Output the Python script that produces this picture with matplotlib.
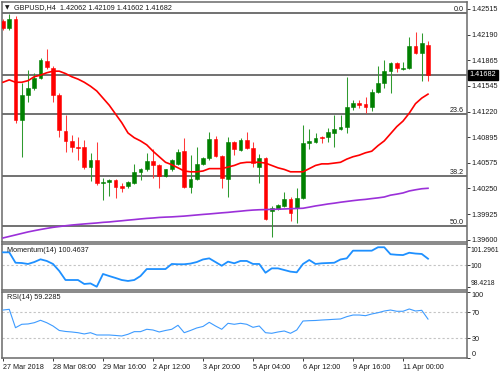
import matplotlib
matplotlib.use('Agg')
import matplotlib.pyplot as plt
import matplotlib.transforms as mtransforms
import numpy as np

plt.rcParams['font.family'] = ['Liberation Sans', 'DejaVu Sans']
FS = 5.2

# ---------------- data (GBPUSD H4) ----------------
opens = [1.4236, 1.4228, 1.4239, 1.4111, 1.4143, 1.4152, 1.4164, 1.4186, 1.4177, 1.4143,
         1.4098, 1.4085, 1.4077, 1.4077, 1.4052, 1.4061, 1.4032, 1.4033, 1.4036, 1.4028,
         1.4028, 1.4032, 1.4046, 1.4049, 1.4059, 1.4055, 1.4041, 1.4049, 1.4056, 1.4072,
         1.4027, 1.4037, 1.4056, 1.4064, 1.4087, 1.4066, 1.4037, 1.4084, 1.4074, 1.4086,
         1.4076, 1.4052, 1.4064, 1.3996, 1.3999, 1.4003, 1.4012, 1.4000, 1.4013, 1.4082,
         1.4084, 1.4090, 1.4090, 1.4095, 1.4100, 1.4103, 1.4128, 1.4133, 1.4132, 1.4128,
         1.4147, 1.4158, 1.4173, 1.4183, 1.4176, 1.4177, 1.4205, 1.4196, 1.42062]
highs = [1.4239, 1.4245, 1.4243, 1.4158, 1.4175, 1.4171, 1.4190, 1.4201, 1.4180, 1.4145,
         1.4118, 1.4093, 1.4090, 1.4086, 1.4070, 1.4084, 1.4038, 1.4037, 1.4037, 1.4032,
         1.4035, 1.4056, 1.4051, 1.4070, 1.4075, 1.4056, 1.4050, 1.4062, 1.4075, 1.4089,
         1.4067, 1.4077, 1.4065, 1.4096, 1.4091, 1.4067, 1.4090, 1.4085, 1.4089, 1.4096,
         1.4084, 1.4069, 1.4065, 1.4003, 1.4005, 1.4021, 1.4014, 1.4026, 1.4105, 1.4100,
         1.4095, 1.4091, 1.4101, 1.4118, 1.4118, 1.4166, 1.4137, 1.4137, 1.4140, 1.4151,
         1.4180, 1.4187, 1.4185, 1.4185, 1.4185, 1.4216, 1.4223, 1.4221, 1.42109]
lows = [1.4225, 1.4225, 1.4108, 1.4065, 1.4134, 1.4149, 1.4163, 1.4176, 1.4134, 1.4090,
        1.4071, 1.4071, 1.4061, 1.4050, 1.4035, 1.4029, 1.4010, 1.4016, 1.4013, 1.4021,
        1.4026, 1.4031, 1.4036, 1.4047, 1.4038, 1.4026, 1.4040, 1.4047, 1.4055, 1.4026,
        1.4019, 1.4036, 1.4055, 1.4061, 1.4065, 1.4026, 1.4014, 1.4067, 1.4072, 1.4075,
        1.4052, 1.4032, 1.3985, 1.3964, 1.3998, 1.4002, 1.3984, 1.3981, 1.4012, 1.4075,
        1.4082, 1.4082, 1.4084, 1.4077, 1.4099, 1.4095, 1.4124, 1.4127, 1.4120, 1.4123,
        1.4145, 1.4152, 1.4145, 1.4172, 1.4175, 1.4176, 1.4195, 1.4161, 1.41602]
closes = [1.4228, 1.4239, 1.4111, 1.4143, 1.4152, 1.4164, 1.4187, 1.4178, 1.4143, 1.4099,
          1.4085, 1.4077, 1.4076, 1.4052, 1.4061, 1.4032, 1.4033, 1.4036, 1.4027, 1.4026,
          1.4033, 1.4046, 1.4049, 1.4059, 1.4054, 1.4041, 1.4049, 1.4061, 1.4071, 1.4027,
          1.4037, 1.4056, 1.4064, 1.4087, 1.4066, 1.4038, 1.4084, 1.4075, 1.4086, 1.4076,
          1.4057, 1.4064, 1.3987, 1.4000, 1.4004, 1.4012, 1.3994, 1.4013, 1.4082, 1.4085,
          1.4089, 1.4089, 1.4096, 1.4100, 1.4103, 1.4128, 1.4133, 1.4130, 1.4128, 1.4147,
          1.4158, 1.4173, 1.4183, 1.4177, 1.4177, 1.4205, 1.4196, 1.4209, 1.41682]

ma_fast = [1.4159, 1.4162, 1.4159, 1.4159, 1.4161, 1.4166, 1.4168, 1.4171, 1.4173, 1.4173,
           1.4170, 1.4166, 1.4163, 1.4159, 1.4154, 1.4148, 1.4139, 1.4130, 1.4119, 1.4108,
           1.4095, 1.4089, 1.4085, 1.4080, 1.4072, 1.4065, 1.4058, 1.4055, 1.4051, 1.4047,
           1.4046, 1.4046, 1.4047, 1.4050, 1.4050, 1.4050, 1.4052, 1.4054, 1.4057, 1.4058,
           1.4058, 1.4058, 1.4057, 1.4054, 1.4051, 1.4049, 1.4046, 1.4046, 1.4046, 1.4050,
           1.4054, 1.4056, 1.4056, 1.4057, 1.4058, 1.4062, 1.4065, 1.4067, 1.4070, 1.4072,
           1.4079, 1.4085, 1.4094, 1.4103, 1.4110, 1.4120, 1.4132, 1.4139, 1.4144]
ma_slow = [1.39625, 1.39644, 1.39663, 1.39682, 1.39701, 1.39717, 1.39732, 1.39746, 1.39759, 1.39769,
           1.39779, 1.39788, 1.39795, 1.39802, 1.39808, 1.39814, 1.39822, 1.39827, 1.39835, 1.39842,
           1.39850, 1.39857, 1.39865, 1.39872, 1.39877, 1.39884, 1.39888, 1.39891, 1.39896, 1.39901,
           1.39908, 1.39915, 1.39922, 1.39928, 1.39935, 1.39942, 1.39948, 1.39956, 1.39963, 1.39971,
           1.39977, 1.39981, 1.39983, 1.39986, 1.39988, 1.39991, 1.39994, 1.39997, 1.40000, 1.40014,
           1.40029, 1.40041, 1.40054, 1.40064, 1.40076, 1.40086, 1.40096, 1.40105, 1.40112, 1.40122,
           1.40131, 1.40142, 1.40165, 1.40178, 1.40193, 1.40218, 1.40233, 1.40246, 1.40252]

momentum = [100.93, 100.93, 100.17, 100.15, 100.08, 100.22, 100.42, 100.30, 100.08, 99.57,
            98.91, 98.91, 98.91, 98.62, 98.66, 98.42, 99.35, 99.20, 99.06, 98.91,
            98.84, 98.91, 99.20, 99.71, 99.71, 99.71, 99.71, 100.08, 100.06, 100.06,
            100.11, 100.22, 100.41, 100.49, 100.22, 99.95, 100.25, 100.13, 100.30, 100.30,
            100.08, 100.08, 99.44, 99.76, 99.76, 99.64, 99.52, 99.47, 100.08, 100.37,
            100.08, 100.13, 100.15, 100.17, 100.41, 100.49, 101.05, 101.05, 101.05, 101.05,
            101.30, 101.30, 100.79, 100.75, 100.73, 100.90, 100.84, 100.81, 100.4637]
rsi = [73.0, 74.1, 46.1, 51.3, 51.8, 53.7, 57.4, 53.7, 48.7, 41.9,
       40.4, 39.6, 38.5, 36.6, 38.5, 35.0, 35.0, 35.0, 34.3, 33.5,
       36.1, 40.1, 40.1, 43.7, 42.6, 39.6, 41.9, 43.7, 49.8, 38.5,
       41.9, 45.7, 48.0, 54.3, 48.7, 43.7, 52.8, 51.3, 52.8, 51.3,
       46.7, 48.7, 38.5, 37.6, 39.6, 41.1, 37.6, 42.6, 56.3, 56.8,
       57.1, 57.8, 58.3, 58.9, 59.4, 62.9, 65.4, 65.4, 64.4, 67.0,
       68.9, 71.5, 73.0, 71.1, 71.1, 74.6, 71.5, 72.6, 59.2285]

fib_names = ['0.0', '23.6', '38.2', '50.0']
fib_prices = [1.42465, 1.41195, 1.40410, 1.39775]
last_price = 1.41682

price_ticks = [1.42515, 1.42190, 1.41865, 1.41545, 1.41220, 1.40895, 1.40575, 1.40250, 1.39925, 1.39600]
x_labels = ['27 Mar 2018', '28 Mar 08:00', '29 Mar 16:00', '2 Apr 12:00', '3 Apr 20:00',
            '5 Apr 04:00', '6 Apr 12:00', '9 Apr 16:00', '11 Apr 00:00']
mom_ticks = [98.4218, 100, 101.2961]
mom_tick_labels = ['98.4218', '100', '101.2961']
rsi_ticks = [0, 30, 70, 100]

title = 'GBPUSD,H4  1.42062 1.42109 1.41602 1.41682'
mom_title = 'Momentum(14) 100.4637'
rsi_title = 'RSI(14) 59.2285'

# ---------------- layout ----------------
W, H = 500, 375
fig = plt.figure(figsize=(W / 100, H / 100), dpi=100)
fig.patch.set_facecolor('white')


def box(l, t, r, b):
    return [l / W, 1 - b / H, (r - l) / W, (b - t) / H]


ax = fig.add_axes(box(2, 2, 467, 242))
axm = fig.add_axes(box(2, 244, 467, 290), sharex=ax)
axr = fig.add_axes(box(2, 291.5, 467, 358), sharex=ax)

SPINE = '#6a6a6a'
TXT = '#1a1a1a'
for a in (ax, axm, axr):
    for s in a.spines.values():
        s.set_color(SPINE)
        s.set_linewidth(1.1)
    a.yaxis.tick_right()
    a.tick_params(axis='y', length=2, width=0.6, pad=1.5, labelsize=FS,
                  colors=TXT, left=False, labelleft=False)
    a.set_facecolor('white')

x = np.arange(len(closes))
o = np.array(opens); h = np.array(highs); l = np.array(lows); c = np.array(closes)
up = c >= o
cols = np.where(up, '#008000', '#ff0000')
wick_cols = np.where(up, '#2f9a2f', '#ff3a3a')

# ---------------- main panel ----------------
for fp in fib_prices:
    ax.axhline(fp, color='#4a4a4a', lw=1.1, zorder=1)
ax.axhline(last_price, color='#4a4a4a', lw=1.1, zorder=1)

ax.vlines(x, l, h, colors=wick_cols, lw=0.75, zorder=2)
ax.bar(x, np.abs(c - o), width=0.62, bottom=np.minimum(o, c), color=cols,
       edgecolor=cols, linewidth=0.4, zorder=3)

ax.plot(x, ma_fast, color='#ff0000', lw=1.2, zorder=4)
ax.plot(x, ma_slow, color='#9b30d9', lw=1.2, zorder=4)

ax.set_xlim(-0.16, 74.24)
ax.set_ylim(1.39574, 1.42603)
ax.set_yticks(price_ticks)
ax.set_yticklabels([f'{v:.5f}' for v in price_ticks])
ax.tick_params(axis='x', bottom=False, labelbottom=False)

blend = mtransforms.blended_transform_factory(ax.transAxes, ax.transData)
for name, fp in zip(fib_names, fib_prices):
    ax.text(0.9935, fp, name, transform=blend, ha='right', va='bottom',
            fontsize=FS, color=TXT)
ax.text(1.0 + 2.5 / 465, last_price, f'{last_price:.5f}', transform=blend, ha='left',
        va='center', fontsize=FS, color='white', clip_on=False, zorder=10,
        bbox=dict(boxstyle='square,pad=0.25', fc='black', ec='black'))

fig.text(5 / W, 1 - 7.5 / H, '\u25BC', fontsize=4.2, family=['DejaVu Sans'],
         va='center', ha='left', color=TXT)
fig.text(14 / W, 1 - 7.5 / H, title, fontsize=FS, va='center', ha='left', color=TXT)

# ---------------- momentum panel ----------------
axm.axhline(100, color='#c4c4c4', lw=0.8, ls=(0, (2, 2)), zorder=1)
axm.plot(x, momentum, color='#1e90ff', lw=1.3, zorder=3)
axm.set_ylim(98.181, 101.537)
axm.set_yticks(mom_ticks)
axm.set_yticklabels(mom_tick_labels)
axm.tick_params(axis='y', pad=0.8, labelsize=4.9)
labs = axm.get_yticklabels()
labs[0].set_va('bottom')
labs[2].set_va('top')
axm.tick_params(axis='x', bottom=False, labelbottom=False)
axm.text(5 / 465, 0.85, mom_title, transform=axm.transAxes, fontsize=FS,
         va='center', ha='left', color=TXT)

# ---------------- RSI panel ----------------
for lvl in (30, 70):
    axr.axhline(lvl, color='#c4c4c4', lw=0.8, ls=(0, (2, 2)), zorder=1)
axr.plot(x, rsi, color='#3d9bff', lw=0.8, zorder=3)
axr.set_ylim(0, 101.2)
axr.set_yticks(rsi_ticks)
axr.set_yticklabels([str(v) for v in rsi_ticks])
rl = axr.get_yticklabels()
rl[0].set_va('bottom')
rl[3].set_va('top')
axr.text(5 / 465, 0.915, rsi_title, transform=axr.transAxes, fontsize=FS,
         va='center', ha='left', color=TXT)

axr.set_xticks(np.arange(0, len(closes), 8))
axr.set_xticklabels(x_labels, ha='left')
axr.tick_params(axis='x', length=2, width=0.6, pad=2, labelsize=FS, colors=TXT)

fig.savefig('out.png', dpi=100, facecolor='white')
